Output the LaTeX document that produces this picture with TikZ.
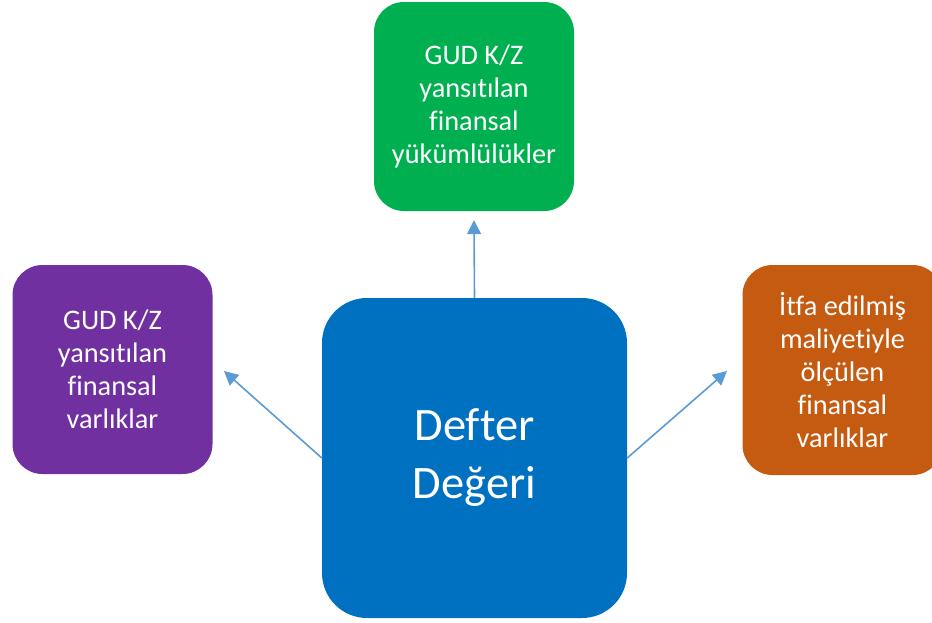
\documentclass[tikz,border=0pt]{standalone}
\usepackage{fontspec}
\setmainfont[Ligatures=NoCommon]{Carlito}
\usetikzlibrary{arrows.meta,positioning}
\definecolor{kutumavi}{HTML}{0070C0}
\definecolor{kutuyesil}{HTML}{00B050}
\definecolor{kutumor}{HTML}{7030A0}
\definecolor{kututuruncu}{HTML}{C55A11}
\definecolor{okmavi}{HTML}{5B9BD5}

\begin{document}
\begin{tikzpicture}[x=1pt,y=-1pt,
	kutu/.style={rectangle, rounded corners=30pt, text=white, align=center, inner sep=0pt, font=\fontsize{28.3}{33}\selectfont},
	ok/.style={-{Triangle[length=14pt,width=14pt]}, line width=1.6pt, color=okmavi}]
	\useasboundingbox (0,0) rectangle (932,622);
	\node[kutu, fill=kutumavi, minimum width=305pt, minimum height=320pt, rounded corners=45pt, font=\fontsize{46.5}{58}\selectfont] (d) at (474.5,458) {Defter\\Değeri};
	\node[kutu, fill=kutuyesil, minimum width=200pt, minimum height=209pt] (y) at (474,106.5) {GUD K/Z\\yansıtılan\\finansal\\yükümlülükler};
	\node[kutu, fill=kutumor, minimum width=200pt, minimum height=209pt] (m) at (112.5,369.5) {GUD K/Z\\yansıtılan\\finansal\\varlıklar};
	\node[kutu, fill=kututuruncu, minimum width=200pt, minimum height=210pt] (t) at (842.5,370) {İtfa edilmiş\\maliyetiyle\\ölçülen\\finansal\\varlıklar};
	
	\coordinate (ucsol) at (224,371);
	\coordinate (ucsag) at (727,371);
	\draw[ok] (d.north) -- ([yshift=-9pt]y.south);
	\draw[ok] (d.west) -- (ucsol);
	\draw[ok] (d.east) -- (ucsag);
\end{tikzpicture}
\end{document}
